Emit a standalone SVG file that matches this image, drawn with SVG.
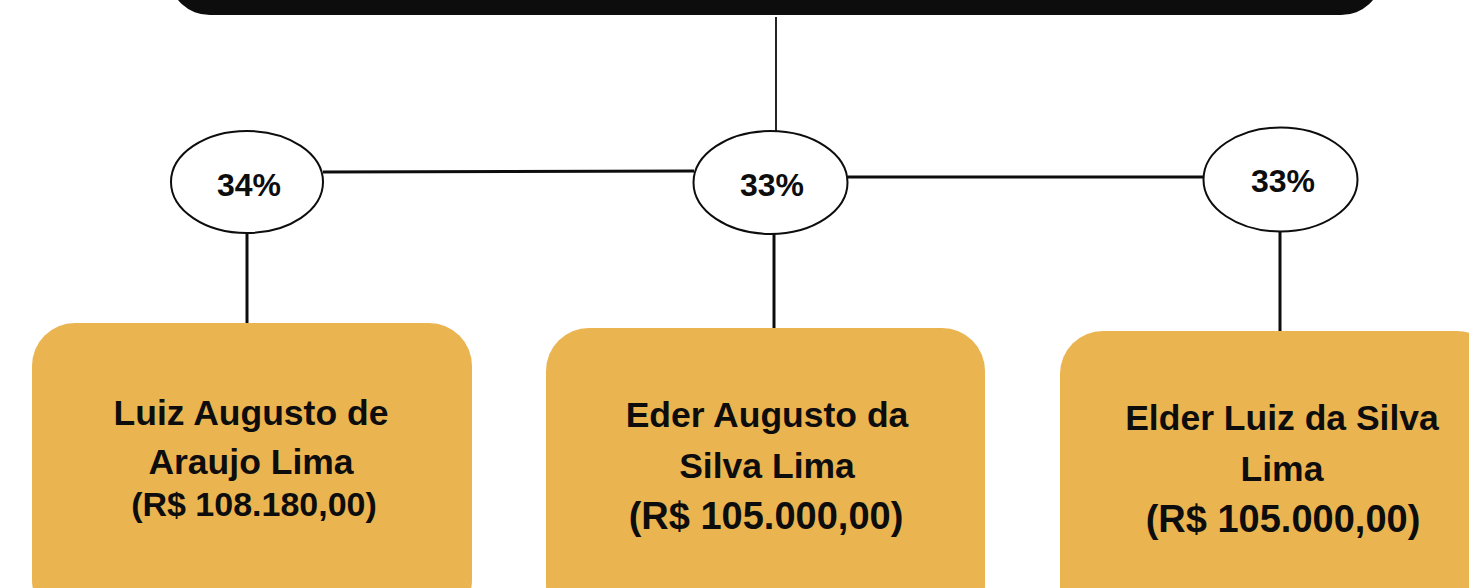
<svg xmlns="http://www.w3.org/2000/svg" width="1469" height="588" viewBox="0 0 1469 588">
<style>
.pct{font-family:"Liberation Sans",Arial,sans-serif;font-weight:bold;font-size:32px;fill:#0d0d0d;text-anchor:middle}
.nm{font-family:"Liberation Sans",Arial,sans-serif;font-weight:bold;font-size:35.5px;fill:#0d0d0d;text-anchor:middle}
.box{fill:#eab451}
.ell{fill:#ffffff;stroke:#0d0d0d;stroke-width:2}
.c{stroke:#0d0d0d;stroke-width:3;fill:none}
</style>
<rect width="1469" height="588" fill="#ffffff"/>
<g id="top"><rect x="170" y="-60" width="1211" height="75" rx="40" ry="40" fill="#0d0d0d"/></g>
<g id="connectors">
<line x1="776" y1="17" x2="776" y2="131" stroke="#0d0d0d" stroke-width="1.8"/>
<line class="c" x1="323" y1="172" x2="694" y2="171"/>
<line class="c" x1="848" y1="177" x2="1204" y2="177"/>
<line class="c" x1="247" y1="233" x2="247" y2="323"/>
<line class="c" x1="774" y1="234" x2="774" y2="329"/>
<line class="c" x1="1280" y1="232" x2="1280" y2="331"/>
</g>
<g id="p1"><ellipse class="ell" cx="247" cy="182" rx="76" ry="51"/><text class="pct" x="249" y="196">34%</text></g>
<g id="p2"><ellipse class="ell" cx="770.5" cy="182.5" rx="77" ry="51.5"/><text class="pct" x="772" y="196">33%</text></g>
<g id="p3"><ellipse class="ell" cx="1280.5" cy="179.5" rx="77" ry="52"/><text class="pct" x="1283" y="192">33%</text></g>
<g id="n1"><rect class="box" x="32" y="323" width="440" height="300" rx="43" ry="43"/>
<text class="nm" x="251" y="425">Luiz Augusto de</text>
<text class="nm" x="251" y="474">Araujo Lima</text>
<text class="nm" x="254" y="516" style="font-size:34px">(R$ 108.180,00)</text></g>
<g id="n2"><rect class="box" x="546" y="328" width="439" height="300" rx="43" ry="43"/>
<text class="nm" x="767" y="427">Eder Augusto da</text>
<text class="nm" x="767" y="478">Silva Lima</text>
<text class="nm" x="766" y="529" style="font-size:38px">(R$ 105.000,00)</text></g>
<g id="n3"><rect class="box" x="1060" y="331" width="440" height="300" rx="43" ry="43"/>
<text class="nm" x="1282" y="430">Elder Luiz da Silva</text>
<text class="nm" x="1282" y="481">Lima</text>
<text class="nm" x="1283" y="532" style="font-size:38px">(R$ 105.000,00)</text></g>
</svg>
